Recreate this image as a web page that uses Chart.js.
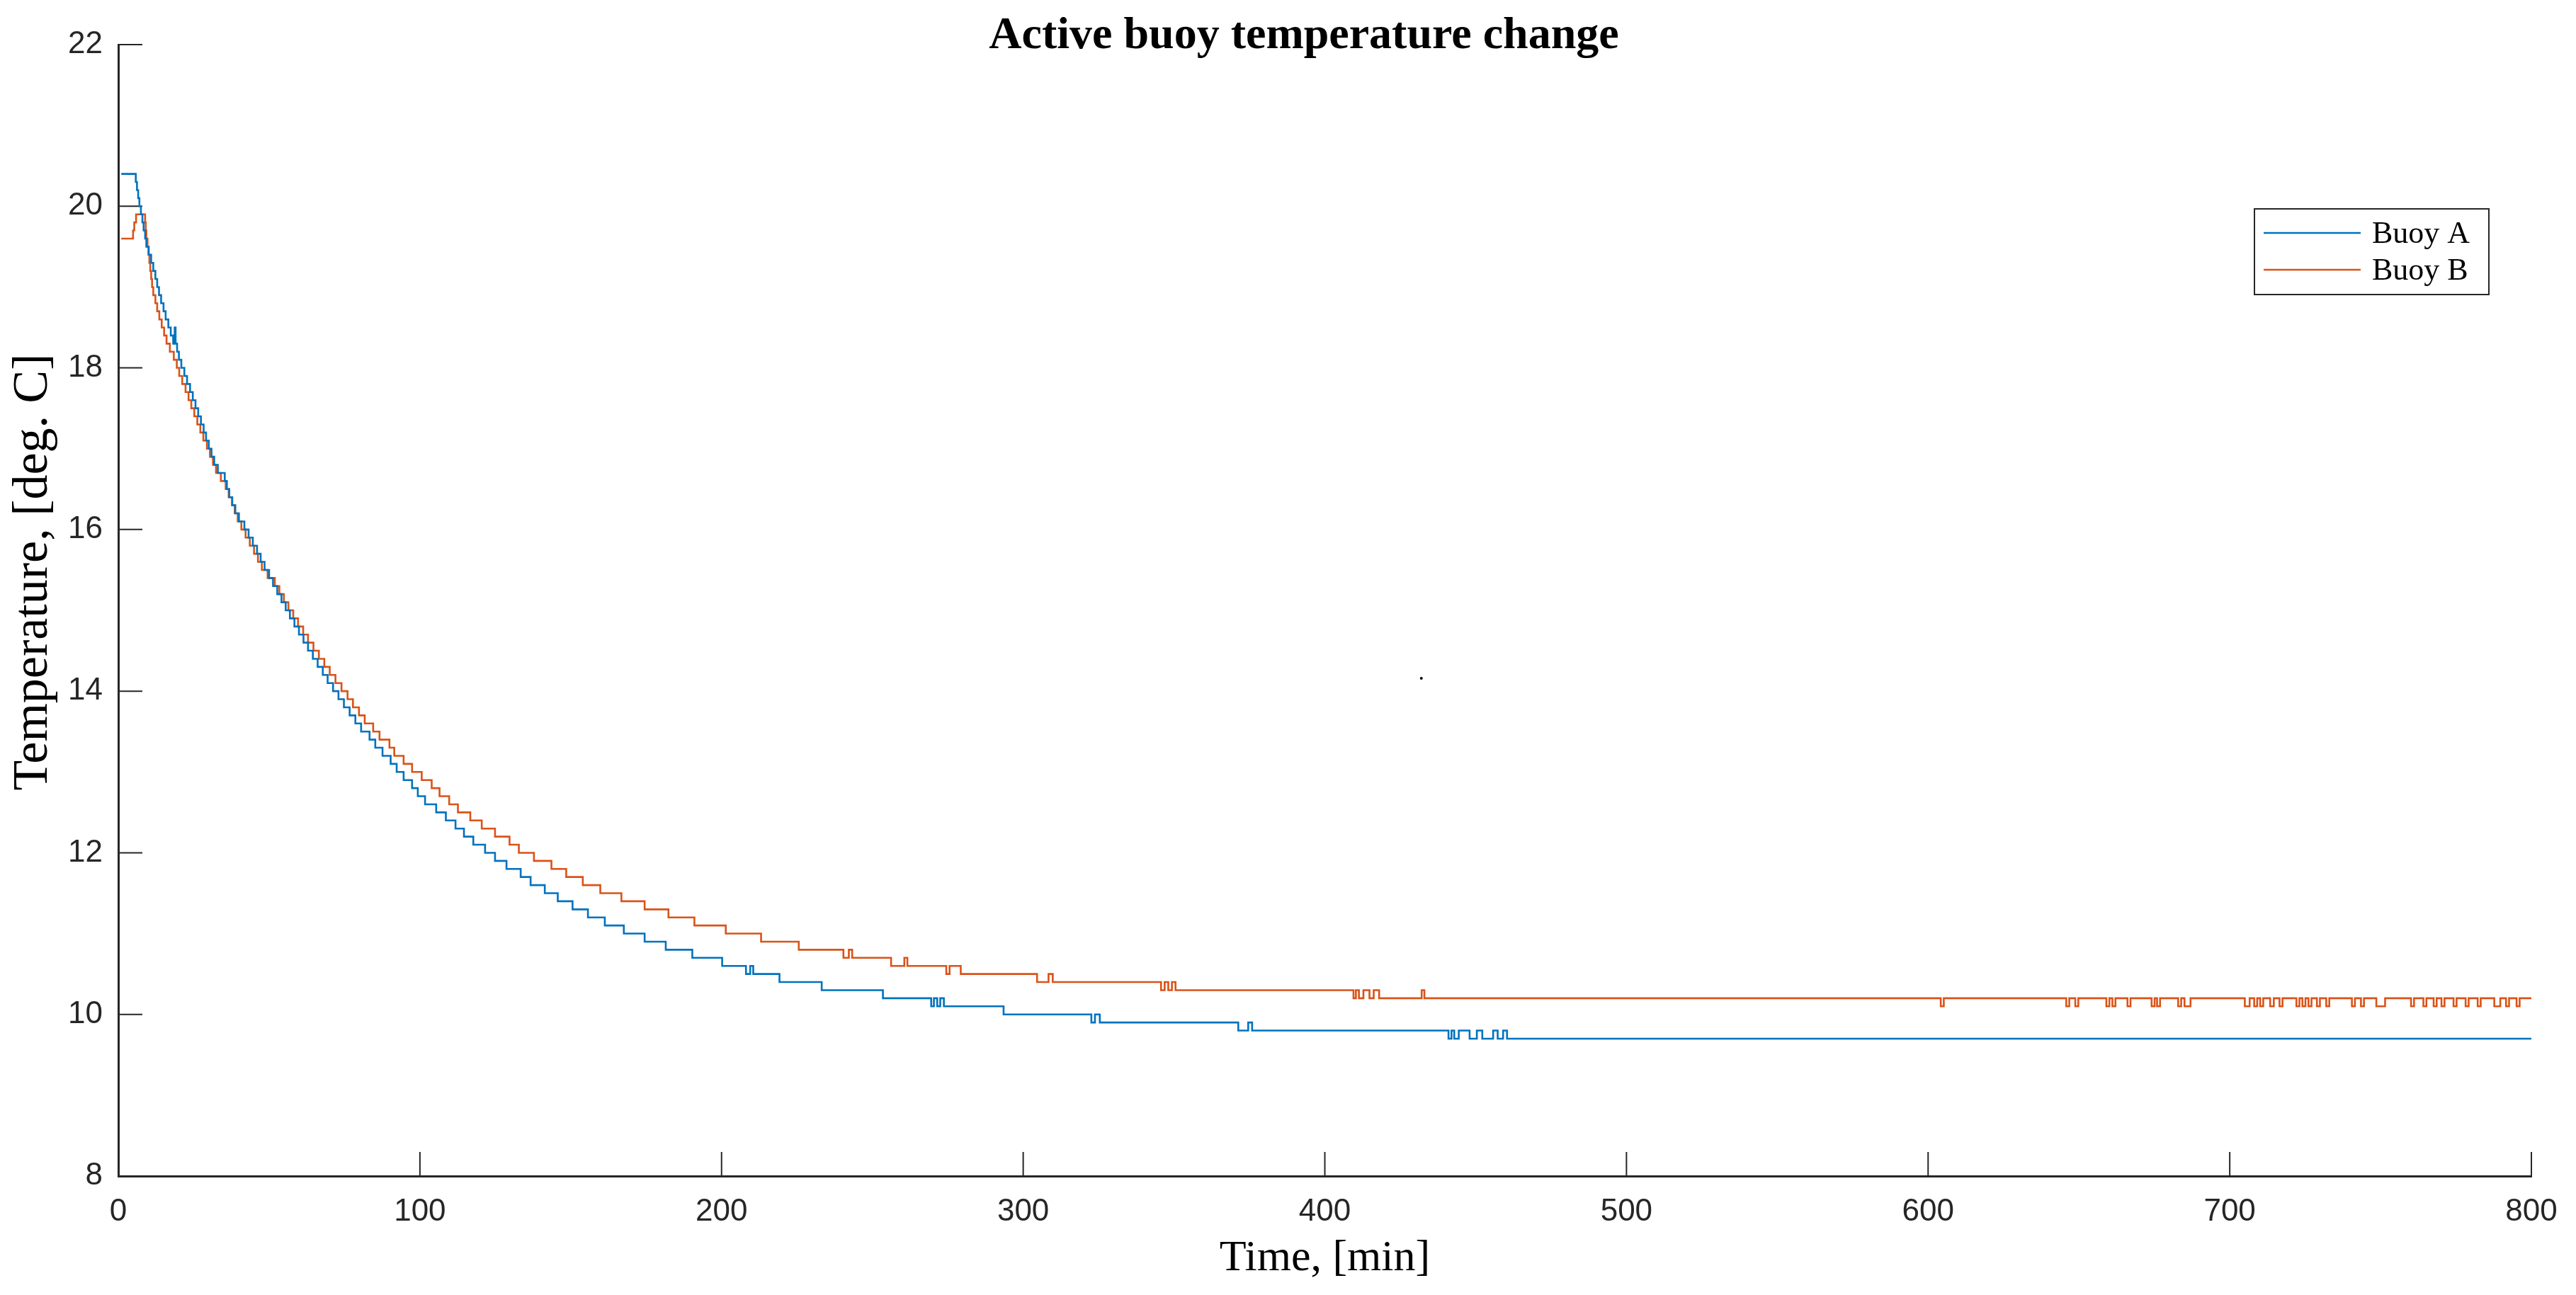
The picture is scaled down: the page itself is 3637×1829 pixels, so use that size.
<!DOCTYPE html>
<html>
<head>
<meta charset="utf-8">
<title>Active buoy temperature change</title>
<script src="https://cdn.jsdelivr.net/npm/chart.js@4.4.1/dist/chart.umd.min.js"></script>
<style>
  html, body { margin: 0; padding: 0; background: #fff; }
  #wrap { width: 3637px; height: 1829px; }
</style>
</head>
<body>
<div id="wrap"><canvas id="buoyChart" width="3637" height="1829"></canvas></div>
<script>
// tick labels
const xTicks = [0, 100, 200, 300, 400, 500, 600, 700, 800];
const yTicks = [8, 10, 12, 14, 16, 18, 20, 22];

// Buoy A: time [min] where the reading changes, and the new reading
const timeA = [
  1, 5.8, 6.2, 6.6, 7.0, 7.5, 8.0, 8.4, 8.9, 9.3,
  10.1, 10.9, 11.6, 12.3, 12.9, 13.5, 14.2, 15.0, 15.7, 16.6,
  17.4, 18.2, 18.7, 19.0, 19.5, 20.1, 20.9, 21.9, 22.8, 23.8,
  24.7, 25.6, 26.5, 27.4, 28.3, 29.1, 30.0, 30.9, 31.8, 33.0,
  35.3, 36.0, 36.8, 37.8, 38.8, 40.0, 41.8, 43.2, 44.6, 46.0,
  47.2, 48.5, 50.0, 51.3, 52.7, 54.1, 55.5, 56.9, 58.4, 59.9,
  61.4, 62.9, 64.5, 66.1, 67.8, 69.4, 71.2, 73.0, 74.8, 76.7,
  78.6, 80.5, 83.3, 85.2, 87.6, 90.3, 92.3, 94.6, 97.4, 99.3,
  101.7, 105.4, 108.6, 111.8, 114.6, 117.7, 121.6, 124.9, 128.7, 133.4,
  136.7, 141.4, 145.7, 150.6, 155.7, 161.3, 167.6, 174.5, 181.5, 190.3,
  200.2, 208.1, 209.5, 210.5, 219.2, 233.2, 253.5, 269.5, 270.4, 271.5,
  272.5, 273.7, 293.5, 322.6, 323.8, 325.4, 371.3, 374.6, 375.9, 441.0,
  442.0, 442.9, 444.4, 448.0, 450.4, 452.2, 455.8, 457.3, 459.1, 460.4,
  800
];
const tempA = [
  20.4, 20.3, 20.2, 20.1, 20.0, 19.9, 19.8, 19.7, 19.6, 19.5,
  19.4, 19.3, 19.2, 19.1, 19.0, 18.9, 18.8, 18.7, 18.6, 18.5,
  18.4, 18.3, 18.5, 18.3, 18.2, 18.1, 18.0, 17.9, 17.8, 17.7,
  17.6, 17.5, 17.4, 17.3, 17.2, 17.1, 17.0, 16.9, 16.8, 16.7,
  16.6, 16.5, 16.4, 16.3, 16.2, 16.1, 16.0, 15.9, 15.8, 15.7,
  15.6, 15.5, 15.4, 15.3, 15.2, 15.1, 15.0, 14.9, 14.8, 14.7,
  14.6, 14.5, 14.4, 14.3, 14.2, 14.1, 14.0, 13.9, 13.8, 13.7,
  13.6, 13.5, 13.4, 13.3, 13.2, 13.1, 13.0, 12.9, 12.8, 12.7,
  12.6, 12.5, 12.4, 12.3, 12.2, 12.1, 12.0, 11.9, 11.8, 11.7,
  11.6, 11.5, 11.4, 11.3, 11.2, 11.1, 11.0, 10.9, 10.8, 10.7,
  10.6, 10.5, 10.6, 10.5, 10.4, 10.3, 10.2, 10.1, 10.2, 10.1,
  10.2, 10.1, 10.0, 9.9, 10.0, 9.9, 9.8, 9.9, 9.8, 9.7,
  9.8, 9.7, 9.8, 9.7, 9.8, 9.7, 9.8, 9.7, 9.8, 9.7,
  9.7
];

// Buoy B
const timeB = [
  1, 4.9, 5.3, 5.9, 8.9, 9.1, 9.3, 9.7, 10.0, 10.3,
  10.6, 10.9, 11.2, 11.6, 12.3, 12.9, 13.6, 14.4, 15.2, 16.0,
  17.1, 18.4, 19.4, 20.2, 21.2, 22.3, 23.3, 24.2, 25.2, 26.2,
  27.2, 28.2, 29.4, 30.4, 31.4, 32.4, 34.0, 35.6, 36.6, 37.7,
  38.6, 39.6, 40.8, 42.2, 43.6, 45.0, 46.3, 47.6, 49.5, 51.9,
  53.4, 54.9, 56.4, 58.0, 59.6, 61.3, 62.9, 64.7, 66.5, 68.3,
  70.1, 72.0, 74.0, 76.0, 77.8, 79.8, 81.7, 84.5, 86.6, 89.9,
  91.5, 94.6, 97.4, 100.6, 103.9, 106.5, 109.7, 112.6, 116.7, 120.5,
  124.9, 129.7, 132.8, 137.8, 143.6, 148.5, 154.0, 159.8, 166.8, 174.5,
  182.4, 191.0, 201.4, 213.1, 225.6, 240.4, 242.2, 243.3, 256.2, 260.6,
  261.6, 274.5, 275.6, 279.3, 304.6, 308.4, 309.8, 345.7, 346.9, 348.1,
  349.3, 350.5, 409.5, 410.3, 411.3, 412.8, 414.8, 416.2, 418.0, 432.1,
  433.0, 604.2, 605.2, 645.8, 646.8, 648.8, 649.8, 659.1, 660.1, 661.1,
  662.1, 666.1, 667.1, 674.1, 675.1, 675.9, 676.9, 682.9, 683.9, 685.0,
  687.0, 705.0, 706.6, 708.1, 709.1, 710.1, 711.1, 713.4, 714.6, 716.5,
  717.5, 722.1, 723.1, 724.1, 725.1, 726.1, 727.1, 728.9, 729.9, 732.0,
  733.0, 740.5, 741.5, 743.5, 744.5, 748.6, 751.5, 760.1, 761.1, 764.2,
  765.2, 767.6, 768.6, 770.2, 771.2, 774.2, 775.2, 778.2, 779.2, 782.2,
  783.2, 787.7, 789.7, 791.6, 792.6, 795.1, 796.1, 800
];
const tempB = [
  19.6, 19.7, 19.8, 19.9, 19.8, 19.7, 19.6, 19.5, 19.4, 19.3,
  19.2, 19.1, 19.0, 18.9, 18.8, 18.7, 18.6, 18.5, 18.4, 18.3,
  18.2, 18.1, 18.0, 17.9, 17.8, 17.7, 17.6, 17.5, 17.4, 17.3,
  17.2, 17.1, 17.0, 16.9, 16.8, 16.7, 16.6, 16.5, 16.4, 16.3,
  16.2, 16.1, 16.0, 15.9, 15.8, 15.7, 15.6, 15.5, 15.4, 15.3,
  15.2, 15.1, 15.0, 14.9, 14.8, 14.7, 14.6, 14.5, 14.4, 14.3,
  14.2, 14.1, 14.0, 13.9, 13.8, 13.7, 13.6, 13.5, 13.4, 13.3,
  13.2, 13.1, 13.0, 12.9, 12.8, 12.7, 12.6, 12.5, 12.4, 12.3,
  12.2, 12.1, 12.0, 11.9, 11.8, 11.7, 11.6, 11.5, 11.4, 11.3,
  11.2, 11.1, 11.0, 10.9, 10.8, 10.7, 10.8, 10.7, 10.6, 10.7,
  10.6, 10.5, 10.6, 10.5, 10.4, 10.5, 10.4, 10.3, 10.4, 10.3,
  10.4, 10.3, 10.2, 10.3, 10.2, 10.3, 10.2, 10.3, 10.2, 10.3,
  10.2, 10.1, 10.2, 10.1, 10.2, 10.1, 10.2, 10.1, 10.2, 10.1,
  10.2, 10.1, 10.2, 10.1, 10.2, 10.1, 10.2, 10.1, 10.2, 10.1,
  10.2, 10.1, 10.2, 10.1, 10.2, 10.1, 10.2, 10.1, 10.2, 10.1,
  10.2, 10.1, 10.2, 10.1, 10.2, 10.1, 10.2, 10.1, 10.2, 10.1,
  10.2, 10.1, 10.2, 10.1, 10.2, 10.1, 10.2, 10.1, 10.2, 10.1,
  10.2, 10.1, 10.2, 10.1, 10.2, 10.1, 10.2, 10.1, 10.2, 10.1,
  10.2, 10.1, 10.2, 10.1, 10.2, 10.1, 10.2, 10.2
];

// the stray dot in the figure
const dotTime = [432];
const dotTemp = [14.16];

const toPoints = (xs, ys) => xs.map((x, i) => ({ x: x, y: ys[i] }));

const axisColor = '#262626';
const serif = '"Liberation Serif", "Times New Roman", serif';
const sans = '"Liberation Sans", Arial, sans-serif';

// inward tick marks, like the original figure
const innerTicks = {
  id: 'innerTicks',
  beforeDatasetsDraw(chart) {
    const { ctx, chartArea, scales } = chart;
    const len = 34;
    ctx.save();
    ctx.strokeStyle = axisColor;
    ctx.lineWidth = 2;
    scales.x.ticks.forEach(t => {
      const px = scales.x.getPixelForValue(t.value);
      ctx.beginPath();
      ctx.moveTo(px, chartArea.bottom);
      ctx.lineTo(px, chartArea.bottom - len);
      ctx.stroke();
    });
    scales.y.ticks.forEach(t => {
      const py = scales.y.getPixelForValue(t.value);
      ctx.beginPath();
      ctx.moveTo(chartArea.left, py);
      ctx.lineTo(chartArea.left + len, py);
      ctx.stroke();
    });
    ctx.restore();
  }
};

// title sits a bit right of the canvas centre in the original
const titleShift = {
  id: 'titleShift',
  afterLayout(chart) {
    if (chart.titleBlock) chart.titleBlock.left = 108;
  }
};

// y axis label, placed slightly above the axis middle as in the original
const yLabel = {
  id: 'yLabel',
  afterDraw(chart) {
    const ctx = chart.ctx;
    ctx.save();
    ctx.translate(48, 808);
    ctx.rotate(-Math.PI / 2);
    ctx.font = '70px ' + serif;
    ctx.fillStyle = '#000';
    ctx.textAlign = 'center';
    ctx.textBaseline = 'middle';
    ctx.fillText('Temperature, [deg. C]', 0, 0);
    ctx.restore();
  }
};

// boxed legend in the upper right
const boxLegend = {
  id: 'boxLegend',
  afterDraw(chart) {
    const ctx = chart.ctx;
    const sets = chart.data.datasets.filter(d => d.label);
    const box = { left: 3183, top: 295, width: 331, height: 121 };
    const rowY = [329, 381];
    ctx.save();
    ctx.fillStyle = '#fff';
    ctx.fillRect(box.left, box.top, box.width, box.height);
    ctx.strokeStyle = axisColor;
    ctx.lineWidth = 2;
    ctx.strokeRect(box.left, box.top, box.width, box.height);
    ctx.font = '44px ' + serif;
    ctx.textBaseline = 'middle';
    ctx.fillStyle = '#000';
    sets.forEach((d, i) => {
      ctx.strokeStyle = d.borderColor;
      ctx.lineWidth = d.borderWidth;
      ctx.beginPath();
      ctx.moveTo(box.left + 13, rowY[i]);
      ctx.lineTo(box.left + 150, rowY[i]);
      ctx.stroke();
      ctx.fillText(d.label, box.left + 166, rowY[i] + 2);
    });
    ctx.restore();
  }
};

new Chart(document.getElementById('buoyChart'), {
  type: 'line',
  data: {
    datasets: [
      {
        label: 'Buoy A',
        data: toPoints(timeA, tempA),
        borderColor: '#0072BD',
        borderWidth: 2.6,
        pointRadius: 0,
        stepped: true,
        fill: false
      },
      {
        label: 'Buoy B',
        data: toPoints(timeB, tempB),
        borderColor: '#D95319',
        borderWidth: 2.6,
        pointRadius: 0,
        stepped: true,
        fill: false
      },
      {
        data: toPoints(dotTime, dotTemp),
        showLine: false,
        pointRadius: 2,
        pointBackgroundColor: '#000',
        pointBorderWidth: 0
      }
    ]
  },
  options: {
    responsive: false,
    animation: false,
    layout: { padding: { left: 0, right: 63, top: 0, bottom: 0 } },
    plugins: {
      legend: { display: false },
      tooltip: { enabled: false },
      title: {
        display: true,
        text: 'Active buoy temperature change',
        color: '#000',
        font: { family: serif, size: 64, weight: 'bold', lineHeight: 1 },
        padding: { top: 19, bottom: -20 }
      }
    },
    scales: {
      x: {
        type: 'linear',
        min: 0,
        max: 800,
        afterBuildTicks: s => { s.ticks = xTicks.map(v => ({ value: v })); },
        afterFit: s => { s.height = 168; },
        grid: { display: true, drawOnChartArea: false, drawTicks: false },
        border: { display: true, color: axisColor, width: 3 },
        ticks: {
          padding: 24,
          color: axisColor,
          font: { family: sans, size: 44 }
        },
        title: {
          display: true,
          text: 'Time, [min]',
          color: '#000',
          font: { family: serif, size: 62, lineHeight: 1 },
          padding: { top: 0, bottom: 20 }
        }
      },
      y: {
        min: 8,
        max: 22,
        afterBuildTicks: s => { s.ticks = yTicks.map(v => ({ value: v })); },
        afterFit: s => { s.width = 167; },
        grid: { display: true, drawOnChartArea: false, drawTicks: false },
        border: { display: true, color: axisColor, width: 3 },
        ticks: {
          padding: 22,
          color: axisColor,
          font: { family: sans, size: 44 }
        },
        title: { display: false }
      }
    }
  },
  plugins: [innerTicks, titleShift, yLabel, boxLegend]
});
</script>
</body>
</html>
